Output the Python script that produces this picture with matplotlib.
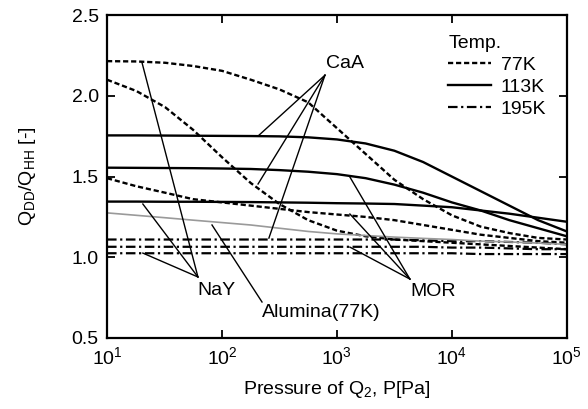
import matplotlib
matplotlib.use("Agg")
import matplotlib.pyplot as plt
from matplotlib.lines import Line2D

plt.rcParams["font.family"] = ["Liberation Sans", "DejaVu Sans"]
plt.rcParams["mathtext.fontset"] = "custom"
plt.rcParams["mathtext.rm"] = "Liberation Sans"
plt.rcParams["mathtext.it"] = "Liberation Sans:italic"
plt.rcParams["mathtext.bf"] = "Liberation Sans:bold"

# pressure grid, Pa (quarter decades)
pressure = [10, 18, 32, 56, 100, 178, 316, 562, 1000, 1778, 3162, 5623,
            10000, 17783, 31623, 56234, 100000]

# 77K (dashed)
nay_77 = [2.215, 2.213, 2.205, 2.185, 2.155, 2.10, 2.04, 1.96, 1.80, 1.64,
          1.48, 1.36, 1.26, 1.19, 1.15, 1.12, 1.11]
caa_77 = [2.10, 2.03, 1.93, 1.79, 1.62, 1.46, 1.33, 1.23, 1.165, 1.13,
          1.11, 1.10, 1.09, 1.08, 1.07, 1.06, 1.05]
mor_77 = [1.49, 1.44, 1.40, 1.36, 1.34, 1.32, 1.30, 1.28, 1.265, 1.25,
          1.23, 1.20, 1.17, 1.14, 1.12, 1.10, 1.09]
# 113K (solid)
caa_113 = [1.755, 1.755, 1.754, 1.753, 1.752, 1.751, 1.749, 1.743, 1.73, 1.705,
           1.66, 1.59, 1.50, 1.41, 1.32, 1.23, 1.16]
mor_113 = [1.555, 1.554, 1.553, 1.552, 1.55, 1.547, 1.54, 1.53, 1.515, 1.49,
           1.45, 1.40, 1.34, 1.29, 1.23, 1.18, 1.13]
nay_113 = [1.345, 1.345, 1.344, 1.344, 1.343, 1.342, 1.34, 1.338, 1.335, 1.333,
           1.33, 1.32, 1.31, 1.29, 1.27, 1.245, 1.22]
# 195K (dash-dot)
caa_195 = [1.11, 1.11, 1.11, 1.11, 1.11, 1.11, 1.11, 1.11, 1.11, 1.11,
           1.11, 1.105, 1.10, 1.10, 1.095, 1.09, 1.08]
mor_195 = [1.065, 1.065, 1.065, 1.065, 1.065, 1.065, 1.065, 1.065, 1.065, 1.065,
           1.065, 1.065, 1.06, 1.06, 1.055, 1.05, 1.05]
nay_195 = [1.025, 1.025, 1.025, 1.025, 1.025, 1.025, 1.025, 1.025, 1.025, 1.025,
           1.025, 1.025, 1.025, 1.02, 1.02, 1.02, 1.02]
# alumina 77K (grey)
alumina_77 = [1.275, 1.26, 1.245, 1.23, 1.215, 1.20, 1.18, 1.16, 1.145, 1.135,
              1.125, 1.117, 1.11, 1.10, 1.095, 1.088, 1.08]

# leader lines: label hub -> curve points (data coords)
caa_hub = (787, 2.128)
caa_tips = [(206, 1.751), (206, 1.454), (256, 1.119)]
nay_hub = (61.8, 0.878)
nay_tips = [(20.1, 2.209), (20.5, 1.330), (20.5, 1.026)]
mor_hub = (4315, 0.865)
mor_tips = [(1297, 1.497), (1297, 1.268), (1297, 1.063)]
alu_hub = (223, 0.723)
alu_tips = [(81.9, 1.200)]

FS = 14

fig = plt.figure(figsize=(5.88, 4.09), dpi=100)
ax = fig.add_axes([0.182, 0.1736, 0.782, 0.7894])

dash77 = dict(color="black", lw=1.7, dashes=(2.2, 1.2))
solid113 = dict(color="black", lw=1.7)
dd195 = dict(color="black", lw=1.6, dashes=(4.3, 1.6, 1.0, 1.6))

for s in (nay_77, caa_77, mor_77):
    ax.plot(pressure, s, **dash77)
for s in (caa_113, mor_113, nay_113):
    ax.plot(pressure, s, **solid113)
for s in (caa_195, mor_195, nay_195):
    ax.plot(pressure, s, **dd195)
ax.plot(pressure, alumina_77, color="#9a9a9a", lw=1.2)

for hub, tips in ((caa_hub, caa_tips), (nay_hub, nay_tips),
                  (mor_hub, mor_tips), (alu_hub, alu_tips)):
    for t in tips:
        ax.plot([hub[0], t[0]], [hub[1], t[1]], color="black", lw=1.0)

ax.text(1175, 2.203, "CaA", fontsize=FS, ha="center", va="center")
ax.text(88.7, 0.797, "NaY", fontsize=FS, ha="center", va="center")
ax.text(6840, 0.785, "MOR", fontsize=FS, ha="center", va="center")
ax.text(223, 0.661, "Alumina(77K)", fontsize=FS, ha="left", va="center")

ax.set_xscale("log")
ax.set_xlim(10, 1e5)
ax.set_ylim(0.5, 2.5)
ax.set_yticks([0.5, 1.0, 1.5, 2.0, 2.5])
ax.set_yticklabels(["0.5", "1.0", "1.5", "2.0", "2.5"])
ax.minorticks_off()
ax.tick_params(which="major", direction="in", length=6, width=1.3,
               top=True, right=True, labelsize=FS, pad=6)
for sp in ax.spines.values():
    sp.set_linewidth(1.6)

ax.set_xlabel("Pressure of Q$_\\mathrm{2}$, P[Pa]", fontsize=FS, labelpad=8)
ax.set_ylabel("Q$_\\mathrm{DD}$/Q$_\\mathrm{HH}$ [-]", fontsize=FS, labelpad=24)

handles = [Line2D([], [], **dash77), Line2D([], [], **solid113),
           Line2D([], [], **dd195)]
leg = ax.legend(handles, ["77K", "113K", "195K"], title="Temp.",
                loc="upper right", bbox_to_anchor=(0.985, 0.98), frameon=False,
                fontsize=FS, title_fontsize=FS, handlelength=2.2,
                handletextpad=0.5, labelspacing=0.22, borderaxespad=0.3)
leg._legend_box.align = "left"

fig.savefig("out.png", dpi=100)
